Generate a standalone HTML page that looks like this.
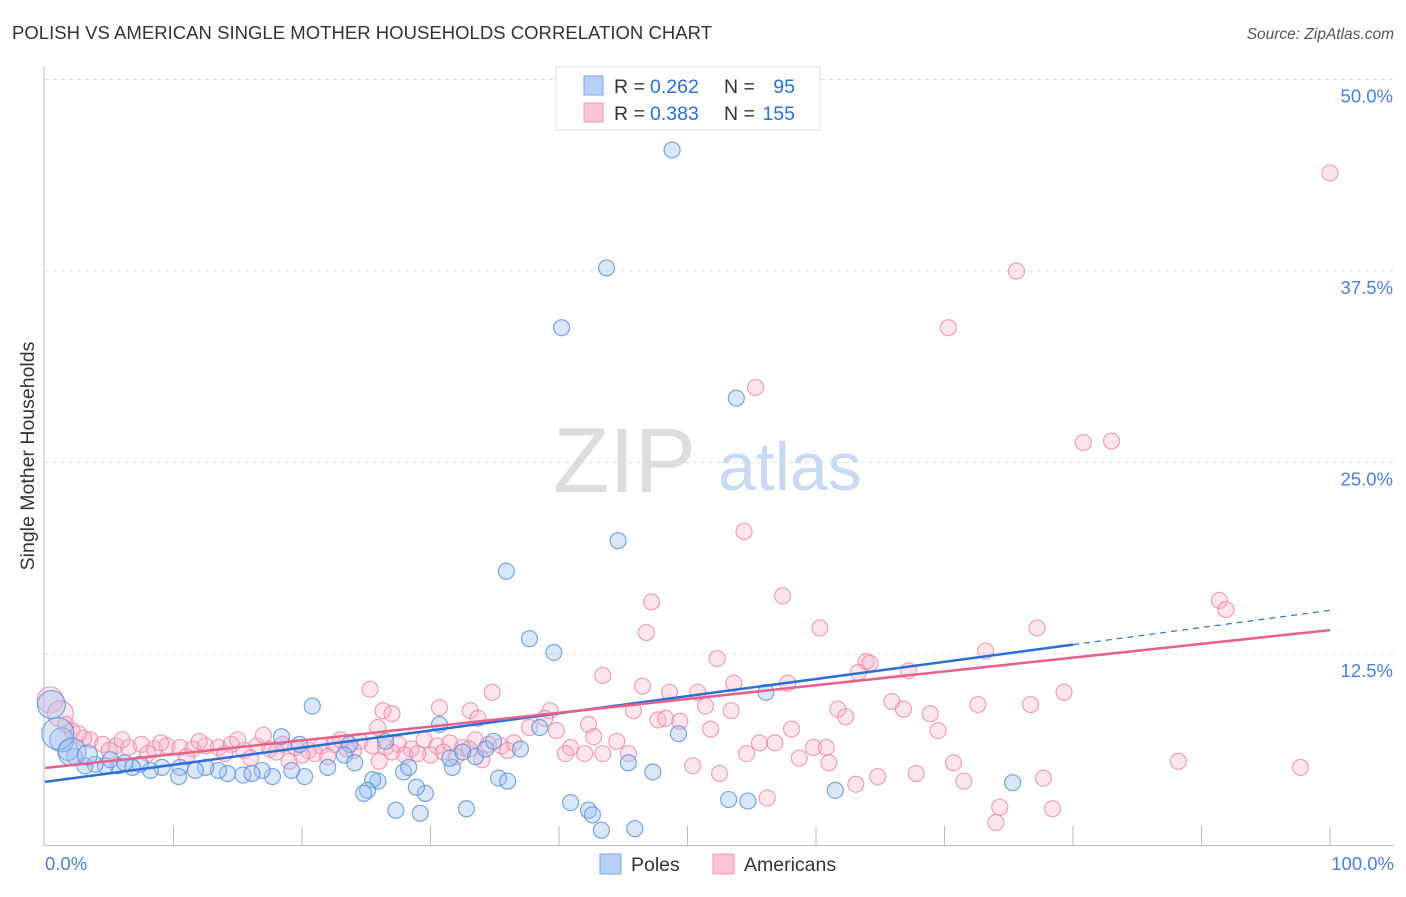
<!DOCTYPE html>
<html><head><meta charset="utf-8"><style>
body{margin:0;background:#fff;width:1406px;height:892px;overflow:hidden;font-family:"Liberation Sans",sans-serif}
svg text{font-family:"Liberation Sans",sans-serif}
</style></head><body>
<svg id="c" width="1406" height="892">
<text x="12" y="39" font-size="18.5" fill="#333" textLength="700">POLISH VS AMERICAN SINGLE MOTHER HOUSEHOLDS CORRELATION CHART</text>
<text x="1394" y="39" font-size="15.5" fill="#555" text-anchor="end" font-style="italic">Source: ZipAtlas.com</text>
<text x="0" y="0" transform="translate(34,456) rotate(-90)" font-size="19.5" fill="#333" text-anchor="middle">Single Mother Households</text>
<g><text x="553" y="492" font-size="92" fill="#ddd" font-family="Liberation Serif">ZIP</text><text x="718" y="490" font-size="68" fill="#c8daf2">atlas</text></g>
<g id="grid"></g><g id="marks"></g><g id="lines"></g>
<g>
<rect x="556" y="67" width="264" height="63" fill="#fff" stroke="#ddd"/>
<rect x="584" y="76" width="19" height="19" fill="#b7d0f5" stroke="#7aa6e6"/>
<rect x="584" y="103" width="19" height="19" fill="#fbc5d5" stroke="#f09ab5"/>
<text x="614" y="93" font-size="19.5" fill="#333">R =</text>
<text x="650" y="93" font-size="19.5" fill="#2a6fd6">0.262</text>
<text x="724" y="93" font-size="19.5" fill="#333">N =</text>
<text x="795" y="93" font-size="19.5" fill="#2a6fd6" text-anchor="end">95</text>
<text x="614" y="120" font-size="19.5" fill="#333">R =</text>
<text x="650" y="120" font-size="19.5" fill="#2a6fd6">0.383</text>
<text x="724" y="120" font-size="19.5" fill="#333">N =</text>
<text x="795" y="120" font-size="19.5" fill="#2a6fd6" text-anchor="end">155</text>
</g>
<g>
<rect x="600" y="854" width="21" height="20" fill="#b7d0f5" stroke="#7aa6e6"/>
<text x="631" y="871" font-size="19.5" fill="#333">Poles</text>
<rect x="713" y="854" width="21" height="20" fill="#fbc5d5" stroke="#f09ab5"/>
<text x="744" y="871" font-size="19.5" fill="#333">Americans</text>
</g>
<text x="45" y="870" font-size="18.5" fill="#4a80d8">0.0%</text>
<text x="1394" y="870" font-size="18.5" fill="#4a80d8" text-anchor="end">100.0%</text>
</svg>
<script>
const yTicks=[12.5,25,37.5,50];
const yTickLabels=["12.5%","25.0%","37.5%","50.0%"];
const polesX=[48.8,43.7,40.2,53.8,44.6,35.9,37.7,39.6,56.1,20.8,30.7,49.3,75.3,61.5,53.2,54.7,40.9,42.3,42.6,43.3,45.9,32.8,29.2,27.3,29.6,28.9,27.9,28.3,25.9,25.5,25.1,24.8,35.3,36.0,31.7,31.5,33.5,34.3,34.9,32.5,37.0,38.5,45.4,47.3,26.5,23.7,23.3,24.1,22.0,19.8,18.4,20.2,19.2,17.7,16.9,15.4,16.1,14.2,13.5,12.5,11.7,10.5,10.4,9.1,8.2,7.4,6.8,5.7,4.7,3.9,3.1,2.3,1.8,1.3,1.0,0.5,2.1,3.3,5.1,6.2];
const polesY=[45.4,37.7,33.8,29.2,19.9,17.9,13.5,12.6,10.0,9.1,7.9,7.3,4.1,3.6,3.0,2.9,2.8,2.3,2.0,1.0,1.1,2.4,2.1,2.3,3.4,3.8,4.8,5.1,4.2,4.3,3.6,3.4,4.4,4.2,5.1,5.7,5.8,6.3,6.8,6.1,6.3,7.7,5.4,4.8,6.8,6.6,5.9,5.4,5.1,6.6,7.1,4.5,4.9,4.5,4.9,4.6,4.7,4.7,4.9,5.1,4.9,5.1,4.5,5.1,4.9,5.3,5.1,5.2,5.2,5.3,5.2,5.8,6.2,6.9,7.3,9.2,6.1,5.9,5.6,5.4];
const polesR=[8,8,8,8,8,8,8,8,8,8,8,8,8,8,8,8,8,8,8,8,8,8,8,8,8,8,8,8,8,8,8,8,8,8,8,8,8,8,8,8,8,8,8,8,8,8,8,8,8,8,8,8,8,8,8,8,8,8,8,8,8,8,8,8,8,8,8,8,8,8,8,8,10,12,16,14,14,10,8,8];
const amerX=[100,75.6,70.3,55.3,80.8,83.0,54.4,47.2,57.4,91.4,91.9,46.8,60.3,77.2,73.2,52.3,63.9,64.2,63.3,67.2,43.4,53.6,57.8,46.5,48.6,50.8,79.3,25.3,34.8,65.9,72.6,76.7,61.7,66.8,68.9,51.4,53.4,45.8,39.3,30.7,33.1,26.3,27.0,33.7,38.9,47.7,48.3,49.4,62.3,42.3,69.5,58.1,51.8,39.8,37.7,25.9,56.8,55.6,59.8,60.8,42.7,44.5,40.9,40.5,42.0,43.4,45.4,54.6,58.7,61.0,70.7,88.2,97.7,50.4,52.5,64.8,67.8,63.1,71.5,77.7,56.2,74.3,78.4,74.0,
0.4,1.2,2.1,3.5,4.5,5.5,6.5,7.5,8.5,9.5,10.5,11.5,12.5,13.5,14.5,15.5,16.5,17.5,18.5,19.5,20.5,21.5,22.5,23.5,24.5,25.5,26.5,27.5,28.5,29.5,30.5,31.5,32.5,33.5,34.5,35.5,36.5,3.0,6.0,9.0,12.0,15.0,18.0,21.0,24.0,27.0,30.0,33.0,36.0,19.0,22.0,28.0,31.0,17.0,2.6,5.0,8.0,11.0,14.0,16.0,20.0,23.0,26.0,29.0,32.0,34.0,1.6];
const amerY=[43.9,37.5,33.8,29.9,26.3,26.4,20.5,15.9,16.3,16.0,15.4,13.9,14.2,14.2,12.7,12.2,12.0,11.9,11.3,11.4,11.1,10.6,10.6,10.4,10.0,10.0,10.0,10.2,10.0,9.4,9.2,9.2,8.9,8.9,8.6,9.1,8.8,8.8,8.8,9.0,8.8,8.8,8.6,8.3,8.3,8.2,8.3,8.1,8.4,7.9,7.5,7.6,7.6,7.5,7.7,7.7,6.7,6.7,6.4,6.4,7.1,6.8,6.4,6.0,6.0,6.0,6.0,6.0,5.7,5.4,5.4,5.5,5.1,5.2,4.7,4.5,4.7,4.0,4.2,4.4,3.1,2.5,2.4,1.5,
9.5,8.6,7.5,6.9,6.6,6.5,6.4,6.6,6.3,6.5,6.4,6.3,6.5,6.4,6.6,6.2,6.5,6.3,6.6,6.4,6.2,6.5,6.6,6.3,6.8,6.5,6.4,6.6,6.3,6.9,6.5,6.7,6.4,6.9,6.6,6.5,6.7,7.0,6.9,6.7,6.8,6.9,6.1,6.0,6.2,6.1,5.9,6.3,6.2,5.5,5.8,5.9,6.1,7.2,7.3,6.2,6.0,5.8,6.0,5.7,5.9,6.9,5.5,6.0,5.8,5.6,7.9];
const polesFit=[4.15,0.112];
const amerFit=[5.06,0.090];
const X=v=>45+v*12.85, Y=v=>845.5-v*15.32;
const ns="http://www.w3.org/2000/svg";
function mk(t,a,p){const e=document.createElementNS(ns,t);for(const k in a)e.setAttribute(k,a[k]);p.appendChild(e);return e;}
const grid=document.getElementById('grid');
yTicks.forEach((t,i)=>{
 const l=mk('line',{x1:45,x2:1394,y1:Y(t),y2:Y(t),stroke:'#ddd','stroke-dasharray':'4,4'},grid);
 
 
 const tx=mk('text',{x:1393,y:Y(t)+23,'font-size':18.5,fill:'#4a80d8','text-anchor':'end'},grid);tx.textContent=yTickLabels[i];
 
 
});
const ax=mk('line',{x1:44,x2:44,y1:67,y2:846,stroke:'#bbb'},grid);


const bx=mk('line',{x1:44,x2:1394,y1:845.5,y2:845.5,stroke:'#bbb'},grid);


for(let k=1;k<=10;k++){const t=mk('line',{x1:X(k*10),x2:X(k*10),y1:826,y2:845,stroke:'#bbb'},grid);
 
 }
const marks=document.getElementById('marks');
amerX.forEach((x,i)=>{const c=mk('circle',{cx:X(x),cy:Y(amerY[i]),r:i>=84&&i<86?13:8,fill:'rgba(248,180,200,0.35)',stroke:'rgba(236,130,165,0.75)','stroke-width':1.2},marks);
 
 });
polesX.forEach((x,i)=>{const c=mk('circle',{cx:X(x),cy:Y(polesY[i]),r:polesR[i],fill:'rgba(160,196,240,0.4)',stroke:'rgba(90,145,220,0.8)','stroke-width':1.2},marks);
 
 });
const lines=document.getElementById('lines');
const pl=mk('line',{x1:X(0),y1:Y(polesFit[0]),x2:X(80),y2:Y(polesFit[0]+80*polesFit[1]),stroke:'#2a6fd6','stroke-width':2.5},lines);


const pd=mk('line',{x1:X(80),y1:Y(polesFit[0]+80*polesFit[1]),x2:X(100),y2:Y(polesFit[0]+100*polesFit[1]),stroke:'#2a6fd6','stroke-width':1.2,'stroke-dasharray':'6,5'},lines);


const al=mk('line',{x1:X(0),y1:Y(amerFit[0]),x2:X(100),y2:Y(amerFit[0]+100*amerFit[1]),stroke:'#e8608a','stroke-width':2.5},lines);


</script>
</body></html>
